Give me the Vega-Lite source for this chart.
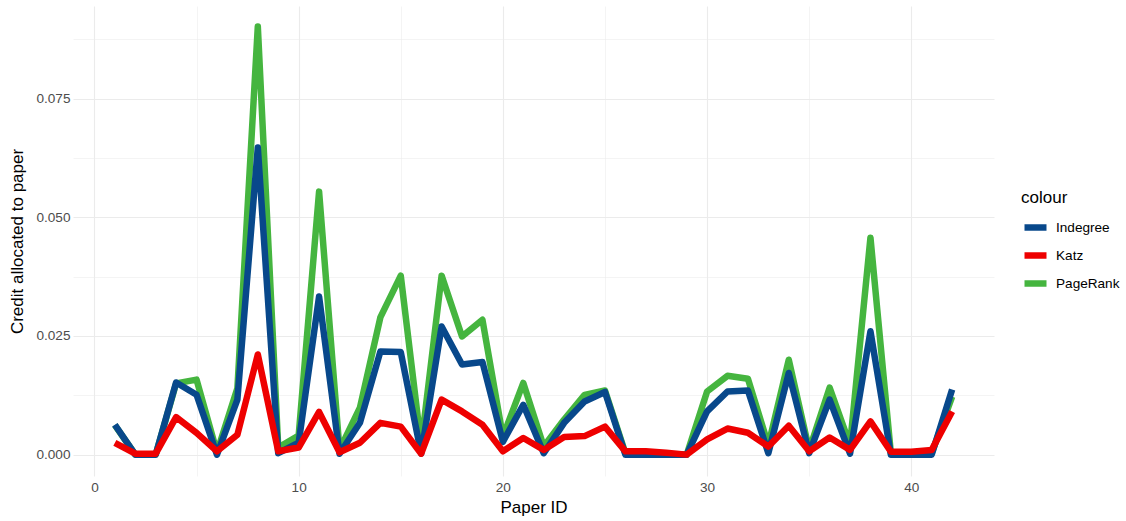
{
  "$schema": "https://vega.github.io/schema/vega-lite/v6.json",
  "width": 921,
  "height": 470,
  "autosize": {"type": "none"},
  "padding": {"left": 73, "top": 6, "right": 132, "bottom": 45},
  "background": "white",
  "config": {
    "view": {"stroke": null},
    "font": "Liberation Sans",
    "axis": {
      "domain": false,
      "ticks": false,
      "labelColor": "#4d4d4d",
      "labelFontSize": 13.6,
      "labelFont": "Liberation Sans",
      "titleFont": "Liberation Sans",
      "titleFontSize": 17,
      "titleFontWeight": "normal",
      "titleColor": "#000000",
      "gridColor": "#ebebeb"
    }
  },
  "data": {
    "values": [
      {"id": 1, "m": "Indegree", "v": 0.0063}, {"id": 2, "m": "Indegree", "v": 0.0}, {"id": 3, "m": "Indegree", "v": 0.0}, {"id": 4, "m": "Indegree", "v": 0.0152}, {"id": 5, "m": "Indegree", "v": 0.0126}, {"id": 6, "m": "Indegree", "v": 0.0}, {"id": 7, "m": "Indegree", "v": 0.0116}, {"id": 8, "m": "Indegree", "v": 0.0647}, {"id": 9, "m": "Indegree", "v": 0.0003}, {"id": 10, "m": "Indegree", "v": 0.0025}, {"id": 11, "m": "Indegree", "v": 0.0333}, {"id": 12, "m": "Indegree", "v": 0.0002}, {"id": 13, "m": "Indegree", "v": 0.0067}, {"id": 14, "m": "Indegree", "v": 0.0217}, {"id": 15, "m": "Indegree", "v": 0.0216}, {"id": 16, "m": "Indegree", "v": 0.0002}, {"id": 17, "m": "Indegree", "v": 0.027}, {"id": 18, "m": "Indegree", "v": 0.019}, {"id": 19, "m": "Indegree", "v": 0.0195}, {"id": 20, "m": "Indegree", "v": 0.0027}, {"id": 21, "m": "Indegree", "v": 0.0105}, {"id": 22, "m": "Indegree", "v": 0.0003}, {"id": 23, "m": "Indegree", "v": 0.0067}, {"id": 24, "m": "Indegree", "v": 0.0112}, {"id": 25, "m": "Indegree", "v": 0.0132}, {"id": 26, "m": "Indegree", "v": 0.0}, {"id": 27, "m": "Indegree", "v": 0.0}, {"id": 28, "m": "Indegree", "v": 0.0}, {"id": 29, "m": "Indegree", "v": 0.0}, {"id": 30, "m": "Indegree", "v": 0.0091}, {"id": 31, "m": "Indegree", "v": 0.0133}, {"id": 32, "m": "Indegree", "v": 0.0135}, {"id": 33, "m": "Indegree", "v": 0.0003}, {"id": 34, "m": "Indegree", "v": 0.0172}, {"id": 35, "m": "Indegree", "v": 0.0003}, {"id": 36, "m": "Indegree", "v": 0.0116}, {"id": 37, "m": "Indegree", "v": 0.0002}, {"id": 38, "m": "Indegree", "v": 0.026}, {"id": 39, "m": "Indegree", "v": 0.0}, {"id": 40, "m": "Indegree", "v": 0.0}, {"id": 41, "m": "Indegree", "v": 0.0}, {"id": 42, "m": "Indegree", "v": 0.0137},
      {"id": 1, "m": "Katz", "v": 0.0025}, {"id": 2, "m": "Katz", "v": 0.0002}, {"id": 3, "m": "Katz", "v": 0.0002}, {"id": 4, "m": "Katz", "v": 0.0079}, {"id": 5, "m": "Katz", "v": 0.0046}, {"id": 6, "m": "Katz", "v": 0.0007}, {"id": 7, "m": "Katz", "v": 0.0042}, {"id": 8, "m": "Katz", "v": 0.0211}, {"id": 9, "m": "Katz", "v": 0.0007}, {"id": 10, "m": "Katz", "v": 0.0015}, {"id": 11, "m": "Katz", "v": 0.009}, {"id": 12, "m": "Katz", "v": 0.0005}, {"id": 13, "m": "Katz", "v": 0.0025}, {"id": 14, "m": "Katz", "v": 0.0067}, {"id": 15, "m": "Katz", "v": 0.0059}, {"id": 16, "m": "Katz", "v": 0.0002}, {"id": 17, "m": "Katz", "v": 0.0116}, {"id": 18, "m": "Katz", "v": 0.0091}, {"id": 19, "m": "Katz", "v": 0.0063}, {"id": 20, "m": "Katz", "v": 0.0007}, {"id": 21, "m": "Katz", "v": 0.0035}, {"id": 22, "m": "Katz", "v": 0.001}, {"id": 23, "m": "Katz", "v": 0.0037}, {"id": 24, "m": "Katz", "v": 0.0039}, {"id": 25, "m": "Katz", "v": 0.0059}, {"id": 26, "m": "Katz", "v": 0.0007}, {"id": 27, "m": "Katz", "v": 0.0007}, {"id": 28, "m": "Katz", "v": 0.0004}, {"id": 29, "m": "Katz", "v": 0.0}, {"id": 30, "m": "Katz", "v": 0.0032}, {"id": 31, "m": "Katz", "v": 0.0055}, {"id": 32, "m": "Katz", "v": 0.0046}, {"id": 33, "m": "Katz", "v": 0.0017}, {"id": 34, "m": "Katz", "v": 0.0061}, {"id": 35, "m": "Katz", "v": 0.0007}, {"id": 36, "m": "Katz", "v": 0.0036}, {"id": 37, "m": "Katz", "v": 0.001}, {"id": 38, "m": "Katz", "v": 0.007}, {"id": 39, "m": "Katz", "v": 0.0006}, {"id": 40, "m": "Katz", "v": 0.0006}, {"id": 41, "m": "Katz", "v": 0.001}, {"id": 42, "m": "Katz", "v": 0.0091},
      {"id": 1, "m": "PageRank", "v": 0.0062}, {"id": 2, "m": "PageRank", "v": 0.0}, {"id": 3, "m": "PageRank", "v": 0.0}, {"id": 4, "m": "PageRank", "v": 0.015}, {"id": 5, "m": "PageRank", "v": 0.0158}, {"id": 6, "m": "PageRank", "v": 0.0005}, {"id": 7, "m": "PageRank", "v": 0.014}, {"id": 8, "m": "PageRank", "v": 0.0902}, {"id": 9, "m": "PageRank", "v": 0.0015}, {"id": 10, "m": "PageRank", "v": 0.004}, {"id": 11, "m": "PageRank", "v": 0.0554}, {"id": 12, "m": "PageRank", "v": 0.001}, {"id": 13, "m": "PageRank", "v": 0.0099}, {"id": 14, "m": "PageRank", "v": 0.0289}, {"id": 15, "m": "PageRank", "v": 0.0377}, {"id": 16, "m": "PageRank", "v": 0.002}, {"id": 17, "m": "PageRank", "v": 0.0377}, {"id": 18, "m": "PageRank", "v": 0.0249}, {"id": 19, "m": "PageRank", "v": 0.0284}, {"id": 20, "m": "PageRank", "v": 0.0038}, {"id": 21, "m": "PageRank", "v": 0.0151}, {"id": 22, "m": "PageRank", "v": 0.0017}, {"id": 23, "m": "PageRank", "v": 0.0074}, {"id": 24, "m": "PageRank", "v": 0.0126}, {"id": 25, "m": "PageRank", "v": 0.0135}, {"id": 26, "m": "PageRank", "v": 0.0003}, {"id": 27, "m": "PageRank", "v": 0.0002}, {"id": 28, "m": "PageRank", "v": 0.0001}, {"id": 29, "m": "PageRank", "v": 0.0}, {"id": 30, "m": "PageRank", "v": 0.0133}, {"id": 31, "m": "PageRank", "v": 0.0166}, {"id": 32, "m": "PageRank", "v": 0.016}, {"id": 33, "m": "PageRank", "v": 0.002}, {"id": 34, "m": "PageRank", "v": 0.02}, {"id": 35, "m": "PageRank", "v": 0.001}, {"id": 36, "m": "PageRank", "v": 0.0141}, {"id": 37, "m": "PageRank", "v": 0.002}, {"id": 38, "m": "PageRank", "v": 0.0457}, {"id": 39, "m": "PageRank", "v": 0.0003}, {"id": 40, "m": "PageRank", "v": 0.0002}, {"id": 41, "m": "PageRank", "v": 0.0003}, {"id": 42, "m": "PageRank", "v": 0.0122}
    ]
  },
  "encoding": {
    "x": {
      "field": "id", "type": "quantitative",
      "scale": {"domain": [-1.05, 44.05], "nice": false, "zero": false},
      "axis": {
        "title": "Paper ID",
        "values": [0, 5, 10, 15, 20, 25, 30, 35, 40],
        "labelExpr": "datum.value % 10 === 0 ? datum.label : ''",
        "gridWidth": {"condition": {"test": "datum.value % 10 === 0", "value": 1.1}, "value": 0.55},
        "labelPadding": 4,
        "titlePadding": 6
      }
    },
    "y": {
      "field": "v", "type": "quantitative",
      "scale": {"domain": [-0.0045, 0.0945], "nice": false, "zero": false},
      "axis": {
        "title": "Credit allocated to paper",
        "values": [0, 0.0125, 0.025, 0.0375, 0.05, 0.0625, 0.075, 0.0875],
        "format": ".3f",
        "labelExpr": "abs(datum.value / 0.025 - round(datum.value / 0.025)) < 0.001 ? datum.label : ''",
        "gridWidth": {"condition": {"test": "abs(datum.value / 0.025 - round(datum.value / 0.025)) < 0.001", "value": 1.1}, "value": 0.55},
        "labelPadding": 3,
        "titlePadding": 9
      }
    },
    "color": {
      "field": "m", "type": "nominal",
      "scale": {"domain": ["Indegree", "Katz", "PageRank"], "range": ["#08488b", "#ee0000", "#45b53f"]},
      "legend": {
        "title": "colour",
        "orient": "none",
        "legendX": 948,
        "legendY": 184,
        "symbolType": "stroke",
        "symbolStrokeWidth": 6.5,
        "symbolSize": 484,
        "rowPadding": -3,
        "labelFontSize": 13.6,
        "labelColor": "#000000",
        "titleFontSize": 17,
        "titleFontWeight": "normal",
        "titleColor": "#000000",
        "titlePadding": 6,
        "labelOffset": 6,
        "padding": 0
      }
    }
  },
  "layer": [
    {"transform": [{"filter": "datum.m === 'PageRank'"}], "mark": {"type": "line", "strokeWidth": 6.5, "strokeJoin": "round", "strokeCap": "butt"}},
    {"transform": [{"filter": "datum.m === 'Indegree'"}], "mark": {"type": "line", "strokeWidth": 6.5, "strokeJoin": "round", "strokeCap": "butt"}},
    {"transform": [{"filter": "datum.m === 'Katz'"}], "mark": {"type": "line", "strokeWidth": 6.5, "strokeJoin": "round", "strokeCap": "butt"}}
  ]
}
